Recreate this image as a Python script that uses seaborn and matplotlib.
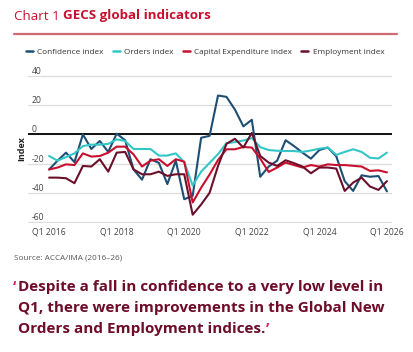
import numpy as np
import pandas as pd
import seaborn as sns
import matplotlib
matplotlib.use("Agg")
import matplotlib.pyplot as plt
from matplotlib.transforms import ScaledTranslation

# ---------------- data ----------------
quarters = [f"Q{q} {y}" for y in range(2016, 2027) for q in range(1, 5)][:41]
tick_labels = ["Q1 2016", "Q1 2018", "Q1 2020", "Q1 2022", "Q1 2024", "Q1 2026"]

confidence = [-24, -18, -12.5, -19, 0, -10, -4.5, -12, 0.5, -4, -24, -31, -17, -19.5, -34, -18,
              -44.4, -42, -2.3, -1, 26.6, 25.7, 17, 5.5, 10, -29, -22, -18, -4, -8,
              -12.5, -16.6, -10.7, -9, -15, -32, -38.7, -28, -29, -28.5, -39]
orders = [-14.8, -18, -15.5, -13, -8, -7, -7, -6.5, -3.4, -4.5, -10, -10, -10, -14.5, -14.5, -13,
          -19, -35, -25.5, -19.5, -13.5, -6, -5.3, -4.2, -2.5, -8.7, -10.7, -11.2, -11.4, -11.4,
          -12, -11, -9.8, -9, -14, -12, -10.2, -12, -16, -16.5, -12.5]
capex = [-24, -22.7, -20.5, -21, -13, -15.2, -14.8, -12.5, -8.4, -8.4, -13.7, -22, -18, -17, -21.6, -17,
         -18.7, -46.6, -36.5, -27.5, -17.5, -10.2, -10.2, -8.6, -9, -16.6, -25.7, -22.7, -19.3, -21,
         -22.7, -21, -22, -20.5, -21, -21, -21.5, -22, -25, -24.6, -26]
employment = [-29.6, -29.6, -30, -33.4, -21.6, -22, -17, -25.5, -12.5, -12, -24, -27.3, -27.3, -25.5, -28.4, -27.3,
              -27.3, -55, -48, -40, -21.6, -6.5, -3, -9, 1, -14.8, -19.3, -21.6, -17.7, -19.7,
              -22, -26.6, -22.7, -22.7, -23.4, -38.7, -33, -29.6, -35.7, -38, -32]

series_names = ["Confidence index", "Orders index", "Capital Expenditure index", "Employment index"]
colors = ["#1d4e74", "#33c6c8", "#c8102e", "#6b0f2b"]

# ---------------- frame ----------------
idx = np.arange(len(quarters))
df = pd.concat([
    pd.DataFrame({"x": idx, "quarter": quarters, "value": vals, "series": name})
    for name, vals in zip(series_names, [confidence, orders, capex, employment])
])

sns.set_theme(style="white")
plt.rcParams["font.family"] = ["Open Sans", "DejaVu Sans"]

fig = plt.figure(figsize=(4.13, 3.52), dpi=100)
ax = fig.add_axes([28 / 413, 1 - 223.5 / 352, (392 - 28) / 413, (223.5 - 74.5) / 352])

sns.lineplot(data=df, x="x", y="value", hue="series", hue_order=series_names,
             palette=colors, linewidth=1.5, ax=ax, legend=False, zorder=3)

ax.set_xlim(-2.5, 40.6)
ax.set_ylim(-61, 41)
ax.set_yticks([40, 20, 0, -20, -40, -60])
ax.set_yticklabels(["40", "20", "0", "-20", "-40", "-60"])
tick_pos = [quarters.index(t) for t in tick_labels]
ax.set_xticks(tick_pos)
ax.set_xticklabels(tick_labels)
ax.grid(axis="y", color="#dcdcdc", linewidth=0.9)
ax.grid(axis="x", visible=False)
ax.axhline(0, color="black", linewidth=1.3, zorder=2)
for s in ax.spines.values():
    s.set_visible(False)
ax.tick_params(axis="both", length=0, labelsize=6.2, colors="#444444")
ax.tick_params(axis="x", pad=3)
ax.tick_params(axis="y", pad=0)
for lab in ax.get_yticklabels():
    lab.set_horizontalalignment("left")
    lab.set_verticalalignment("bottom")
    lab.set_transform(lab.get_transform() + ScaledTranslation(4 / 100, 0 / 100, fig.dpi_scale_trans))
ax.set_xlabel("")
ax.set_ylabel("Index", fontsize=6.5, fontweight="bold", color="#222222", labelpad=1)
ax.yaxis.set_label_coords(-0.005, 0.5)

# legend
handles = [plt.Line2D([], [], color=c, linewidth=1.8) for c in colors]
fig.legend(handles, series_names, loc="center", bbox_to_anchor=(205 / 413, 1 - 52 / 352), ncol=4,
           frameon=False, fontsize=5.9, handlelength=0.9, handletextpad=0.5, columnspacing=1.1,
           labelcolor="#333333")

# title
red = "#c8102e"
t1 = fig.text(14 / 413, 1 - 16 / 352, "Chart 1 ", fontsize=9.6, color=red, va="center", ha="left")
fig.canvas.draw()
bb = t1.get_window_extent()
fig.text(bb.x1 / fig.bbox.width, 1 - 16 / 352, "GECS global indicators", fontsize=9.6,
         color=red, fontweight="bold", va="center", ha="left")
fig.add_artist(plt.Line2D([14 / 413, 397 / 413], [1 - 33.5 / 352, 1 - 33.5 / 352],
                          color="#cf6a73", linewidth=1.6, transform=fig.transFigure))

# source
fig.text(14 / 413, 1 - 258 / 352, "Source: ACCA/IMA (2016–26)", fontsize=5.9, color="#555555",
         va="center", ha="left")

# quote
maroon = "#6e0c2a"
qy = [287, 308, 329]
fs = 11
fig.text(13 / 413, 1 - qy[0] / 352, "‘", fontsize=fs, color="#e0245e", fontweight="bold",
         va="center", ha="left")
lines = ["Despite a fall in confidence to a very low level in",
         "Q1, there were improvements in the Global New",
         "Orders and Employment indices."]
for y, txt in zip(qy, lines):
    t = fig.text(18 / 413, 1 - y / 352, txt, fontsize=fs, color=maroon, fontweight="bold",
                 va="center", ha="left")
fig.canvas.draw()
bb = t.get_window_extent()
fig.text(bb.x1 / fig.bbox.width, 1 - qy[2] / 352, "’", fontsize=fs, color="#e0245e",
         fontweight="bold", va="center", ha="left")

fig.savefig("out.png", dpi=100)
